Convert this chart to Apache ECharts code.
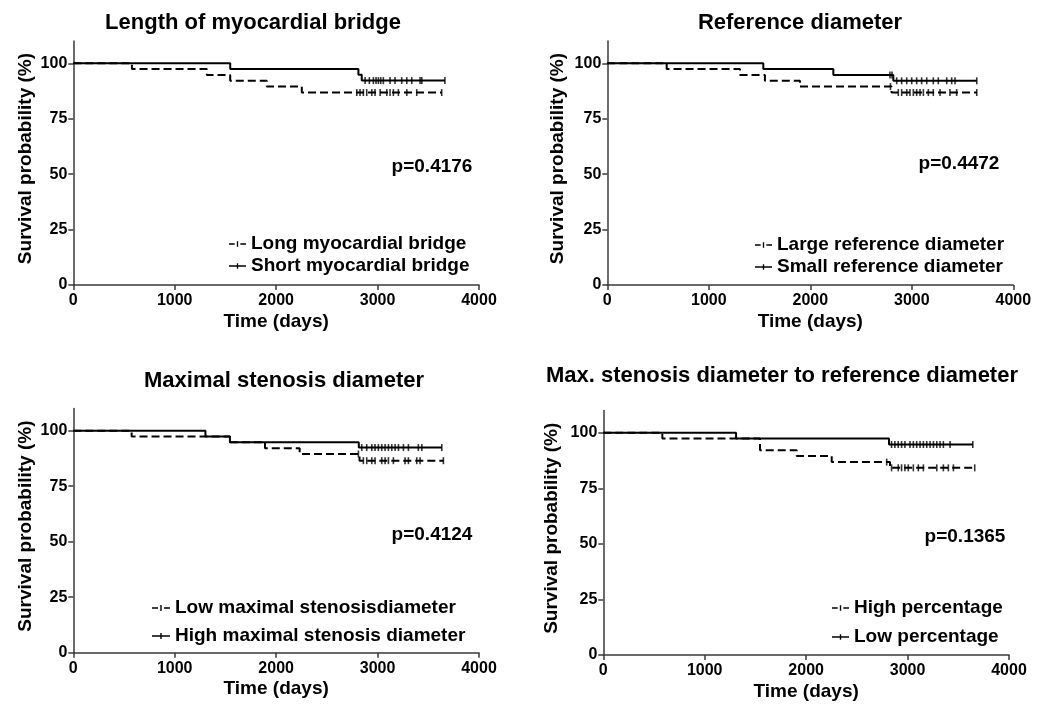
<!DOCTYPE html>
<html>
<head>
<meta charset="utf-8">
<script src="https://cdn.jsdelivr.net/npm/echarts@6/dist/echarts.min.js"></script>
<style>
html,body{margin:0;padding:0;background:#fff;}
#chart{width:1048px;height:704px;}
</style>
</head>
<body>
<div id="chart"></div>
<script>
// ---------- shared labels ----------
const xTickValues = [0, 1000, 2000, 3000, 4000];
const yTickValues = [0, 25, 50, 75, 100];
const xAxisTitle = 'Time (days)';
const yAxisTitle = 'Survival probability (%)';
const panelTitles = [
  'Length of myocardial bridge',
  'Reference diameter',
  'Maximal stenosis diameter',
  'Max. stenosis diameter to reference diameter'
];
const pValues = ['p=0.4176', 'p=0.4472', 'p=0.4124', 'p=0.1365'];

// ---------- panel 1: Length of myocardial bridge ----------
const p1DashedName = 'Long myocardial bridge';
const p1DashedTimes = [0, 578, 1317, 1547, 1908, 2253, 3632];
const p1DashedSurv  = [100, 97.4, 94.7, 92.1, 89.5, 86.8, 86.8];
const p1DashedCensor = [2795, 2827, 2860, 2893, 2943, 2975, 3025, 3091, 3123, 3156, 3205, 3288, 3386, 3632];
const p1SolidName = 'Short myocardial bridge';
const p1SolidTimes = [0, 1547, 2811, 2844, 3664];
const p1SolidSurv  = [100, 97.4, 94.8, 92.2, 92.2];
const p1SolidCensor = [2877, 2919, 2959, 2985, 3008, 3031, 3057, 3123, 3172, 3238, 3288, 3337, 3419, 3436, 3664];

// ---------- panel 2: Reference diameter ----------
const p2DashedName = 'Large reference diameter';
const p2DashedTimes = [0, 585, 1307, 1553, 1898, 2800, 3640];
const p2DashedSurv  = [100, 97.4, 94.7, 92.1, 89.5, 86.8, 86.8];
const p2DashedCensor = [2790, 2867, 2900, 2950, 2982, 3015, 3048, 3081, 3114, 3163, 3212, 3278, 3376, 3442, 3640];
const p2SolidName = 'Small reference diameter';
const p2SolidTimes = [0, 1537, 2227, 2818, 3640];
const p2SolidSurv  = [100, 97.4, 94.7, 92.1, 92.1];
const p2SolidCensor = [2785, 2805, 2851, 2900, 2950, 2999, 3048, 3097, 3147, 3212, 3261, 3344, 3393, 3426, 3640];

// ---------- panel 3: Maximal stenosis diameter ----------
const p3DashedName = 'Low maximal stenosisdiameter';
const p3DashedTimes = [0, 575, 1544, 1890, 2232, 2822, 3649];
const p3DashedSurv  = [100, 97.4, 94.8, 92.1, 89.5, 86.5, 86.5];
const p3DashedCensor = [2811, 2860, 2893, 2943, 2975, 3041, 3074, 3107, 3156, 3271, 3304, 3386, 3419, 3649];
const p3SolidName = 'High maximal stenosis diameter';
const p3SolidTimes = [0, 1303, 1544, 2815, 3633];
const p3SolidSurv  = [100, 97.4, 94.8, 92.4, 92.4];
const p3SolidCensor = [2844, 2893, 2943, 2975, 3008, 3041, 3074, 3107, 3140, 3173, 3206, 3255, 3304, 3402, 3436, 3633];

// ---------- panel 4: Max. stenosis diameter to reference diameter ----------
const p4DashedName = 'High percentage';
const p4DashedTimes = [0, 582, 1545, 1907, 2252, 2827, 3662];
const p4DashedSurv  = [100, 97.4, 92.1, 89.5, 86.8, 84.2, 84.2];
const p4DashedCensor = [2794, 2842, 2908, 2941, 2974, 3007, 3057, 3106, 3156, 3288, 3353, 3402, 3452, 3662];
const p4SolidName = 'Low percentage';
const p4SolidTimes = [0, 1309, 2817, 3643];
const p4SolidSurv  = [100, 97.4, 94.7, 94.7];
const p4SolidCensor = [2842, 2875, 2908, 2941, 2974, 3024, 3057, 3090, 3123, 3156, 3189, 3222, 3255, 3288, 3320, 3353, 3419, 3643];

// ---------- build ----------
const FONT = '"Liberation Sans", Arial, Helvetica, sans-serif';
const panels = [
  {dn: p1DashedName, dt: p1DashedTimes, ds: p1DashedSurv, dc: p1DashedCensor,
   sn: p1SolidName, st: p1SolidTimes, ss: p1SolidSurv, sc: p1SolidCensor},
  {dn: p2DashedName, dt: p2DashedTimes, ds: p2DashedSurv, dc: p2DashedCensor,
   sn: p2SolidName, st: p2SolidTimes, ss: p2SolidSurv, sc: p2SolidCensor},
  {dn: p3DashedName, dt: p3DashedTimes, ds: p3DashedSurv, dc: p3DashedCensor,
   sn: p3SolidName, st: p3SolidTimes, ss: p3SolidSurv, sc: p3SolidCensor},
  {dn: p4DashedName, dt: p4DashedTimes, ds: p4DashedSurv, dc: p4DashedCensor,
   sn: p4SolidName, st: p4SolidTimes, ss: p4SolidSurv, sc: p4SolidCensor}
];

// layout (pixels)
const grids = [
  {left: 73.3, top: 41.1, width: 405.7, height: 243.9},
  {left: 607.3, top: 41.1, width: 406, height: 243.9},
  {left: 73.3, top: 408.5, width: 405.7, height: 244.2},
  {left: 603.3, top: 410.5, width: 405.7, height: 244.5}
];
const titlePos = [[253, 23], [800, 23], [284, 381], [782, 376]];
const pPos = [[432, 167], [959, 164], [432, 535], [965, 537]];
const yNameGap = [38, 40, 38, 42];
const legendPos = [
  {left: 229, top: 234, itemGap: 2, itemWidth: 17},
  {left: 755, top: 235, itemGap: 2, itemWidth: 17},
  {left: 152, top: 598, itemGap: 8, itemWidth: 18},
  {left: 832, top: 598, itemGap: 9, itemWidth: 17}
];

const dashedIcon = 'path://M0,2.2h6v1.6H0z M8.3,0h1.4v6H8.3z M12,2.2h6v1.6h-6z';
const solidIcon = 'path://M0,2.2h18v1.6H0z M8.3,0h1.4v6H8.3z';

function survAt(times, surv, t) {
  let v = surv[0];
  for (let i = 0; i < times.length; i++) { if (times[i] <= t) v = surv[i]; }
  return v;
}
function pairs(times, surv) { return times.map((t, i) => [t, surv[i]]); }
function censorPts(times, surv, cens) { return cens.map(t => [t, survAt(times, surv, t)]); }

const axisColor = '#3a3a3a';
const xAxes = [], yAxes = [], series = [], legends = [], graphics = [];
panels.forEach((p, k) => {
  xAxes.push({
    type: 'value', gridIndex: k, min: 0, max: 4000, interval: 1000,
    name: xAxisTitle, nameLocation: 'middle', nameGap: 27,
    nameTextStyle: {fontFamily: FONT, fontWeight: 'bold', fontSize: 19, color: '#000'},
    axisLine: {show: true, onZero: false, lineStyle: {color: axisColor, width: 1.5}},
    axisTick: {show: true, length: 5, customValues: xTickValues, lineStyle: {color: axisColor, width: 1.5}},
    axisLabel: {fontFamily: FONT, fontWeight: 'bold', fontSize: 16, color: '#000', margin: 8,
      customValues: xTickValues, formatter: v => String(v)},
    splitLine: {show: false}
  });
  yAxes.push({
    type: 'value', gridIndex: k, min: 0, max: 110,
    name: yAxisTitle, nameLocation: 'middle', nameGap: yNameGap[k],
    nameTextStyle: {fontFamily: FONT, fontWeight: 'bold', fontSize: 19, color: '#000', padding: [0, 0, 0, 9]},
    axisLine: {show: true, onZero: false, lineStyle: {color: axisColor, width: 1.5}},
    axisTick: {show: true, length: 5, customValues: yTickValues, lineStyle: {color: axisColor, width: 1.5}},
    axisLabel: {fontFamily: FONT, fontWeight: 'bold', fontSize: 16, color: '#000', margin: 6,
      customValues: yTickValues, formatter: v => String(v)},
    splitLine: {show: false}
  });
  series.push({
    type: 'line', name: p.dn, xAxisIndex: k, yAxisIndex: k, step: 'end',
    showSymbol: false, symbol: 'none', silent: true, z: 2,
    itemStyle: {color: '#000'},
    lineStyle: {color: '#000', width: 2, type: [8, 4]},
    data: pairs(p.dt, p.ds)
  });
  series.push({
    type: 'scatter', name: p.dn, xAxisIndex: k, yAxisIndex: k,
    symbol: 'rect', symbolSize: [1.6, 7], silent: true, z: 3,
    itemStyle: {color: '#000'},
    data: censorPts(p.dt, p.ds, p.dc)
  });
  series.push({
    type: 'line', name: p.sn, xAxisIndex: k, yAxisIndex: k, step: 'end',
    showSymbol: false, symbol: 'none', silent: true, z: 4,
    itemStyle: {color: '#000'},
    lineStyle: {color: '#000', width: 2, type: 'solid'},
    data: pairs(p.st, p.ss)
  });
  series.push({
    type: 'scatter', name: p.sn, xAxisIndex: k, yAxisIndex: k,
    symbol: 'rect', symbolSize: [1.6, 7], silent: true, z: 5,
    itemStyle: {color: '#000'},
    data: censorPts(p.st, p.ss, p.sc)
  });
  const lp = legendPos[k];
  legends.push({
    orient: 'vertical', left: lp.left, top: lp.top, itemGap: lp.itemGap,
    itemWidth: lp.itemWidth, itemHeight: 6, selectedMode: false, padding: 0,
    itemStyle: {color: '#000', borderWidth: 0},
    textStyle: {fontFamily: FONT, fontWeight: 'bold', fontSize: 19, color: '#000', lineHeight: 20},
    data: [{name: p.dn, icon: dashedIcon}, {name: p.sn, icon: solidIcon}]
  });
  graphics.push({
    type: 'text', x: titlePos[k][0], y: titlePos[k][1], silent: true,
    style: {text: panelTitles[k], fill: '#000', font: 'bold 22px ' + FONT, textAlign: 'center', textVerticalAlign: 'middle'}
  });
  graphics.push({
    type: 'text', x: pPos[k][0], y: pPos[k][1], silent: true,
    style: {text: pValues[k], fill: '#000', font: 'bold 19px ' + FONT, textAlign: 'center', textVerticalAlign: 'middle'}
  });
});

const chart = echarts.init(document.getElementById('chart'), null, {renderer: 'canvas'});
chart.setOption({
  animation: false,
  backgroundColor: '#fff',
  grid: grids.map(g => Object.assign({containLabel: false}, g)),
  xAxis: xAxes,
  yAxis: yAxes,
  legend: legends,
  graphic: graphics,
  series: series
});
</script>
</body>
</html>
